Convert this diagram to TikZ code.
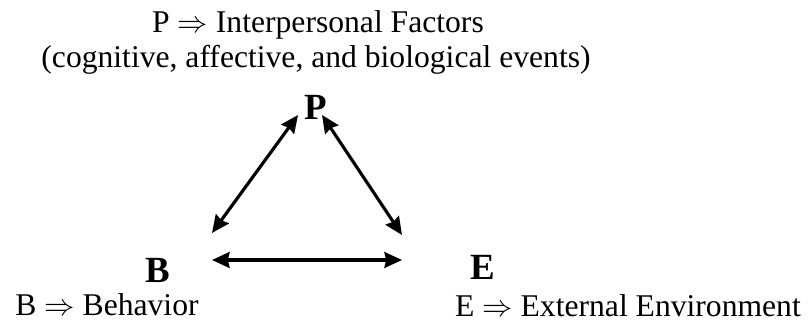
\documentclass[tikz,border=0pt]{standalone}
\usepackage{fontspec}
\setmainfont{Liberation Serif}
\usetikzlibrary{arrows.meta}

\begin{document}
\begin{tikzpicture}[x=0.02cm, y=-0.02cm,
    lbl/.style={font=\fontsize{18}{21}\selectfont, inner sep=0pt},
    letter/.style={font=\fontsize{21}{24}\selectfont\bfseries, inner sep=0pt},
    link/.style={line width=1.8pt, {Stealth[length=10pt,width=9pt,inset=1pt]}-{Stealth[length=10pt,width=9pt,inset=1pt]}}]
  \useasboundingbox (0,0) rectangle (809,323);
  % Caption of P
  \node[lbl] (ptitle) at (318,25) {P $\Rightarrow$ Interpersonal Factors};
  \node[lbl] (pnote) at (316,60) {(cognitive, affective, and biological events)};
  % The three corners
  \node[letter] (P) at (316,107) {P};
  \node[letter] (B) at (158,270) {B};
  \node[letter] (E) at (483,267) {E};
  \node[lbl] (btitle) at (107,305) {B $\Rightarrow$ Behavior};
  \node[lbl] (etitle) at (628,306) {E $\Rightarrow$ External Environment};
  % Arrow ends
  \coordinate (pleft) at (298,115);
  \coordinate (pright) at (322,115);
  \coordinate (bup) at (212,233);
  \coordinate (eup) at (402,235);
  \coordinate (bside) at (212,260);
  \coordinate (eside) at (402,260);
  % Links
  \draw[link] (bup) -- (pleft);
  \draw[link] (pright) -- (eup);
  \draw[link] (bside) -- (eside);
\end{tikzpicture}
\end{document}
